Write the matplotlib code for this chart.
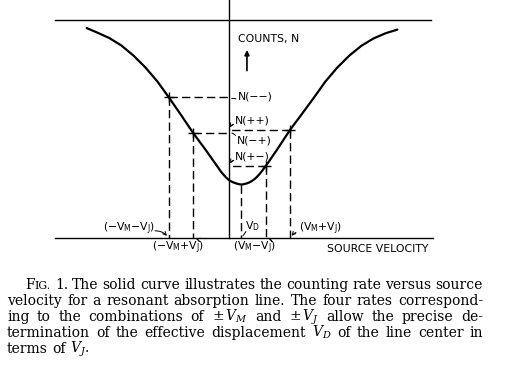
import matplotlib
matplotlib.use("Agg")
import matplotlib.pyplot as plt

# resonant absorption line
# velocity in units of V_J (origin on the counts axis), counts in % of the top level
velocity = [-11.53, -10.66, -9.68, -8.71, -7.73, -6.75, -5.78, -4.86, -3.83, -2.89,
            -1.88, -0.93, -0.58, -0.37, -0.17, 0.03, 0.24, 0.44, 0.64, 0.85, 1.05,
            1.26, 1.46, 1.66, 1.86, 2.07, 2.27, 2.47, 2.68, 2.85, 3.03, 3.98,
            4.99, 5.93, 6.96, 7.88, 8.85, 9.83, 10.81, 11.78, 12.76, 13.73]
counts = [96.3, 94.2, 91.7, 88.3, 83.7, 78.2, 71.8, 64.6, 56.2, 48.3,
          40.6, 33.0, 30.2, 28.8, 27.6, 26.6, 25.9, 25.4, 25.0, 24.7, 24.5,
          24.7, 25.0, 25.4, 26.0, 26.8, 27.8, 29.0, 30.4, 31.7, 33.0, 40.8,
          49.5, 56.6, 64.5, 71.8, 78.2, 83.7, 88.2, 91.5, 93.9, 95.6]

# the four measured rates
rate_names = ["N(−−)", "N(−+)", "N(+−)", "N(++)"]
rate_v = [-4.86, -2.89, 3.03, 4.99]
rate_n = [64.6, 48.3, 33.0, 49.5]
v_d = 1.05
n_min = 24.5
top_level = 100

W, H = 508, 371
fig = plt.figure(figsize=(W / 100, H / 100), dpi=100)
ax = fig.add_axes([0, 111 / H, 1, 260 / H])
ax.set_xlim(-228.5 / 12.3, (W - 228.5) / 12.3)
ax.set_ylim(-22 / 2.18, 238 / 2.18)
ax.axis("off")

# frame lines
ax.plot([-14.1, 16.6], [0, 0], color="k", lw=1.0)
ax.plot([-14.1, 16.5], [top_level, top_level], color="k", lw=1.0)
ax.plot([0, 0], [0, 112], color="k", lw=1.0)

ax.plot(velocity, counts, color="k", lw=1.6, solid_capstyle="round",
        solid_joinstyle="round")

dash = (0, (6, 3))
for v, n in zip(rate_v, rate_n):
    ax.plot([v, 0], [n, n], color="k", lw=1.0, ls=dash)
    ax.plot([v, v], [n, 0], color="k", lw=1.0, ls=dash)
    ax.plot(v, n, marker="+", color="k", ms=7, mew=1.0)
ax.plot([v_d, v_d], [n_min, 0], color="k", lw=1.0, ls=dash)

sans = dict(fontsize=7.8, family="DejaVu Sans", math_fontfamily="dejavusans", color="k")
leader = dict(arrowstyle="-", lw=0.7, color="k")
head = dict(arrowstyle="->", lw=0.7, color="k", mutation_scale=6)

ax.text(0.77, 91.3, "COUNTS, N", va="center", ha="left", **sans)
ax.annotate("", xy=(1.5, 87.5), xytext=(1.5, 75.5),
            arrowprops=dict(arrowstyle="-|>", lw=1.2, color="k", mutation_scale=7))

# rate labels next to the counts axis
label_pos = {"N(−−)": (0.75, 64.7), "N(++)": (0.5, 54.1),
             "N(−+)": (0.65, 44.5), "N(+−)": (0.55, 37.6)}
for name, n in zip(rate_names, rate_n):
    lx, ly = label_pos[name]
    ax.text(lx, ly, name, va="center", ha="left", **sans)
    style = head if name in ("N(++)", "N(+−)") else leader
    ax.annotate("", xy=(0.05, n + (-1 if name == "N(−−)" else 0)),
                xytext=(lx + 0.05, ly - 1.5 if ly > n else ly + 1.5),
                arrowprops=dict(style, connectionstyle="arc3,rad=0.3"))

# velocity labels along the baseline
sub_m, sub_j, sub_d = r"$_\mathrm{M}$", r"$_\mathrm{J}$", r"$_\mathrm{D}$"
ax.text(-10.2, 4.1, f"(−V{sub_m}−V{sub_j})", va="center", ha="left", **sans)
ax.annotate("", xy=(rate_v[0], 0), xytext=(-6.2, 3.2),
            arrowprops=dict(head, connectionstyle="arc3,rad=-0.3"))
ax.text(-6.2, -4.6, f"(−V{sub_m}+V{sub_j})", va="center", ha="left", **sans)
ax.annotate("", xy=(rate_v[1], 0), xytext=(-2.3, -2.8),
            arrowprops=dict(head, connectionstyle="arc3,rad=0.4"))
ax.text(1.35, 5.5, f"V{sub_d}", va="center", ha="left", **sans)
ax.annotate("", xy=(v_d, 0), xytext=(1.55, 4.0), arrowprops=leader)
ax.text(0.37, -4.6, f"(V{sub_m}−V{sub_j})", va="center", ha="left", **sans)
ax.annotate("", xy=(rate_v[2], 0), xytext=(3.6, -2.8),
            arrowprops=dict(head, connectionstyle="arc3,rad=0.4"))
ax.text(5.75, 4.1, f"(V{sub_m}+V{sub_j})", va="center", ha="left", **sans)
ax.annotate("", xy=(rate_v[3], 0), xytext=(5.7, 3.0),
            arrowprops=dict(head, connectionstyle="arc3,rad=0.2"))
ax.text(8.0, -5.0, "SOURCE VELOCITY", va="center", ha="left", **sans)

# caption, justified like the printed page
caption = [
    "FIG. 1. The solid curve illustrates the counting rate versus source",
    "velocity for a resonant absorption line. The four rates correspond-",
    r"ing to the combinations of $\pm\,V_M$ and $\pm\,V_J$ allow the precise de-",
    r"termination of the effective displacement $V_D$ of the line center in",
    r"terms of $V_J$.",
]
serif = dict(family="DejaVu Serif", math_fontfamily="dejavuserif", color="k",
             va="baseline", ha="left")
renderer = fig.canvas.get_renderer()

# pick the size so that the longest line fills the measure with normal spaces
probe = fig.text(0, 0, caption[1], fontsize=10, **serif)
cap_size = 10 * 470 / probe.get_window_extent(renderer).width
probe.remove()


def make_word(word, y):
    if word == "FIG.":
        parts = [("F", cap_size), ("IG.", cap_size * 0.78)]
    else:
        parts = [(word, cap_size)]
    texts = [fig.text(0, 1 - y / H, p, fontsize=s, **serif) for p, s in parts]
    widths = [t.get_window_extent(renderer).width for t in texts]
    return texts, widths


for i, line in enumerate(caption):
    y = 289 + 16 * i
    x0 = 25 if i == 0 else 7
    words = [make_word(w, y) for w in line.split(" ")]
    total = sum(sum(ws) for _, ws in words)
    if i < len(caption) - 1:
        gap = (483 - x0 - total) / (len(words) - 1)
    else:
        gap = cap_size * 0.3 * 100 / 72
    x = x0
    for texts, widths in words:
        for t, w in zip(texts, widths):
            t.set_x(x / W)
            x += w
        x += gap

fig.savefig("out.png", dpi=100, facecolor="white")
